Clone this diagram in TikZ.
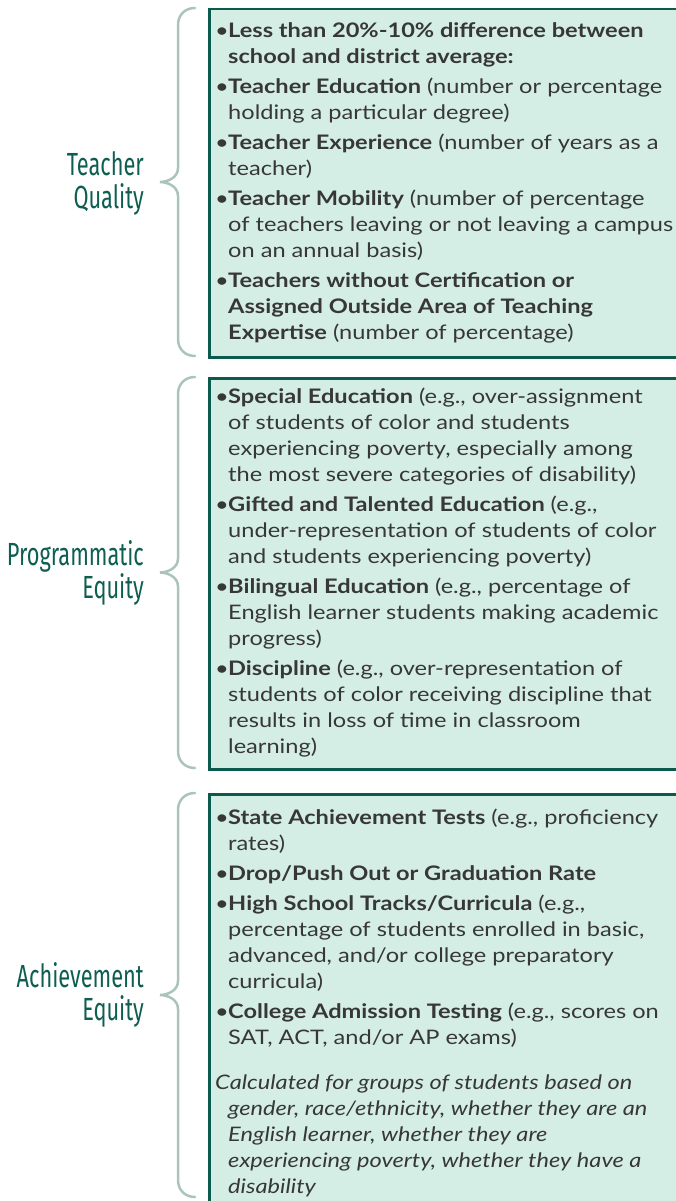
\documentclass[tikz,border=0pt]{standalone}
\usepackage{fontspec}
\setmainfont{Lato}[FakeStretch=1.18]
\newfontfamily\headfont[FakeStretch=0.68]{Fira Sans}
\usetikzlibrary{positioning}

\definecolor{boxfill}{RGB}{213,238,229}
\definecolor{boxline}{RGB}{10,90,78}
\definecolor{bracecol}{RGB}{170,196,188}
\definecolor{headcol}{RGB}{14,94,82}
\definecolor{bodytext}{RGB}{55,55,55}

\newcommand{\bul}{\rule{0pt}{17pt}\makebox[13pt][l]{\textbullet}}
\newcommand{\ind}{\hspace*{13pt}}
\newcommand{\gap}{\\[4pt]}
\newcommand{\sidebrace}[3]{%
  \pgfmathsetmacro\midy{(#2+#3)/2}
  \draw[curly] (#1,#2) .. controls ({#1-10},#2) and ({#1-17},{#2+7}) .. ({#1-17},{#2+17})
    -- ({#1-17},{\midy-14}) .. controls ({#1-17},{\midy-4}) and ({#1-28},\midy) .. ({#1-35},\midy)
    .. controls ({#1-28},\midy) and ({#1-17},{\midy+4}) .. ({#1-17},{\midy+14})
    -- ({#1-17},{#3-17}) .. controls ({#1-17},{#3-7}) and ({#1-10},#3) .. (#1,#3);
}

\begin{document}
\begin{tikzpicture}[
  x=1pt, y=-1pt,
  panel/.style={draw=boxline, line width=2.5pt, fill=boxfill, anchor=north west, minimum width=500pt, inner sep=0pt},
  items/.style={anchor=north west, align=left, inner sep=0pt, text=bodytext, font=\fontsize{20}{26}\selectfont},
  head/.style={anchor=east, align=right, inner sep=0pt, text=headcol, font=\headfont\fontsize{32}{33}\selectfont},
  curly/.style={draw=bracecol, line width=2.5pt, line cap=round}
]
  \useasboundingbox (0,0) rectangle (676,1201);
  \clip (0,0) rectangle (676,1201);

  \node[panel, minimum height=348pt] (qualbox) at (208,8) {};
  \node[panel, minimum height=391pt] (progbox) at (208,377) {};
  \node[panel, minimum height=450pt] (achvbox) at (208,793) {};

  \sidebrace{195}{8}{356}
  \sidebrace{195}{377}{768}
  \sidebrace{195}{793}{1197}

  \node[head] (qualhead) at (144,183) {Teacher\\Quality};
  \node[head] (proghead) at (144,573) {Programmatic\\Equity};
  \node[head] (achvhead) at (144,995) {Achievement\\Equity};

  % each text block hangs from its first baseline minus the 17pt strut
  \node[items] (qualtext) at (215,20) {%
    \bul\textbf{Less than 20\%-10\% difference between}\\
    \ind\textbf{school and district average:}\gap
    \bul\textbf{Teacher Education} (number or percentage\\
    \ind holding a particular degree)\gap
    \bul\textbf{Teacher Experience} (number of years as a\\
    \ind teacher)\gap
    \bul\textbf{Teacher Mobility} (number of percentage\\
    \ind of teachers leaving or not leaving a campus\\
    \ind on an annual basis)\gap
    \bul\textbf{Teachers without Certification or}\\
    \ind\textbf{Assigned Outside Area of Teaching}\\
    \ind\textbf{Expertise} (number of percentage)};

  \node[items] (progtext) at (215,386) {%
    \bul\textbf{Special Education} (e.g., over-assignment\\
    \ind of students of color and students\\
    \ind experiencing poverty, especially among\\
    \ind the most severe categories of disability)\gap
    \bul\textbf{Gifted and Talented Education} (e.g.,\\
    \ind under-representation of students of color\\
    \ind and students experiencing poverty)\gap
    \bul\textbf{Bilingual Education} (e.g., percentage of\\
    \ind English learner students making academic\\
    \ind progress)\gap
    \bul\textbf{Discipline} (e.g., over-representation of\\
    \ind students of color receiving discipline that\\
    \ind results in loss of time in classroom\\
    \ind learning)};

  \node[items] (achvtext) at (215,807) {%
    \bul\textbf{State Achievement Tests} (e.g., proficiency\\
    \ind rates)\gap
    \bul\textbf{Drop/Push Out or Graduation Rate}\gap
    \bul\textbf{High School Tracks/Curricula} (e.g.,\\
    \ind percentage of students enrolled in basic,\\
    \ind advanced, and/or college preparatory\\
    \ind curricula)\gap
    \bul\textbf{College Admission Testing} (e.g., scores on\\
    \ind SAT, ACT, and/or AP exams)\\[19pt]
    \textit{Calculated for groups of students based on}\\
    \ind\textit{gender, race/ethnicity, whether they are an}\\
    \ind\textit{English learner, whether they are}\\
    \ind\textit{experiencing poverty, whether they have a}\\
    \ind\textit{disability}};
\end{tikzpicture}
\end{document}
